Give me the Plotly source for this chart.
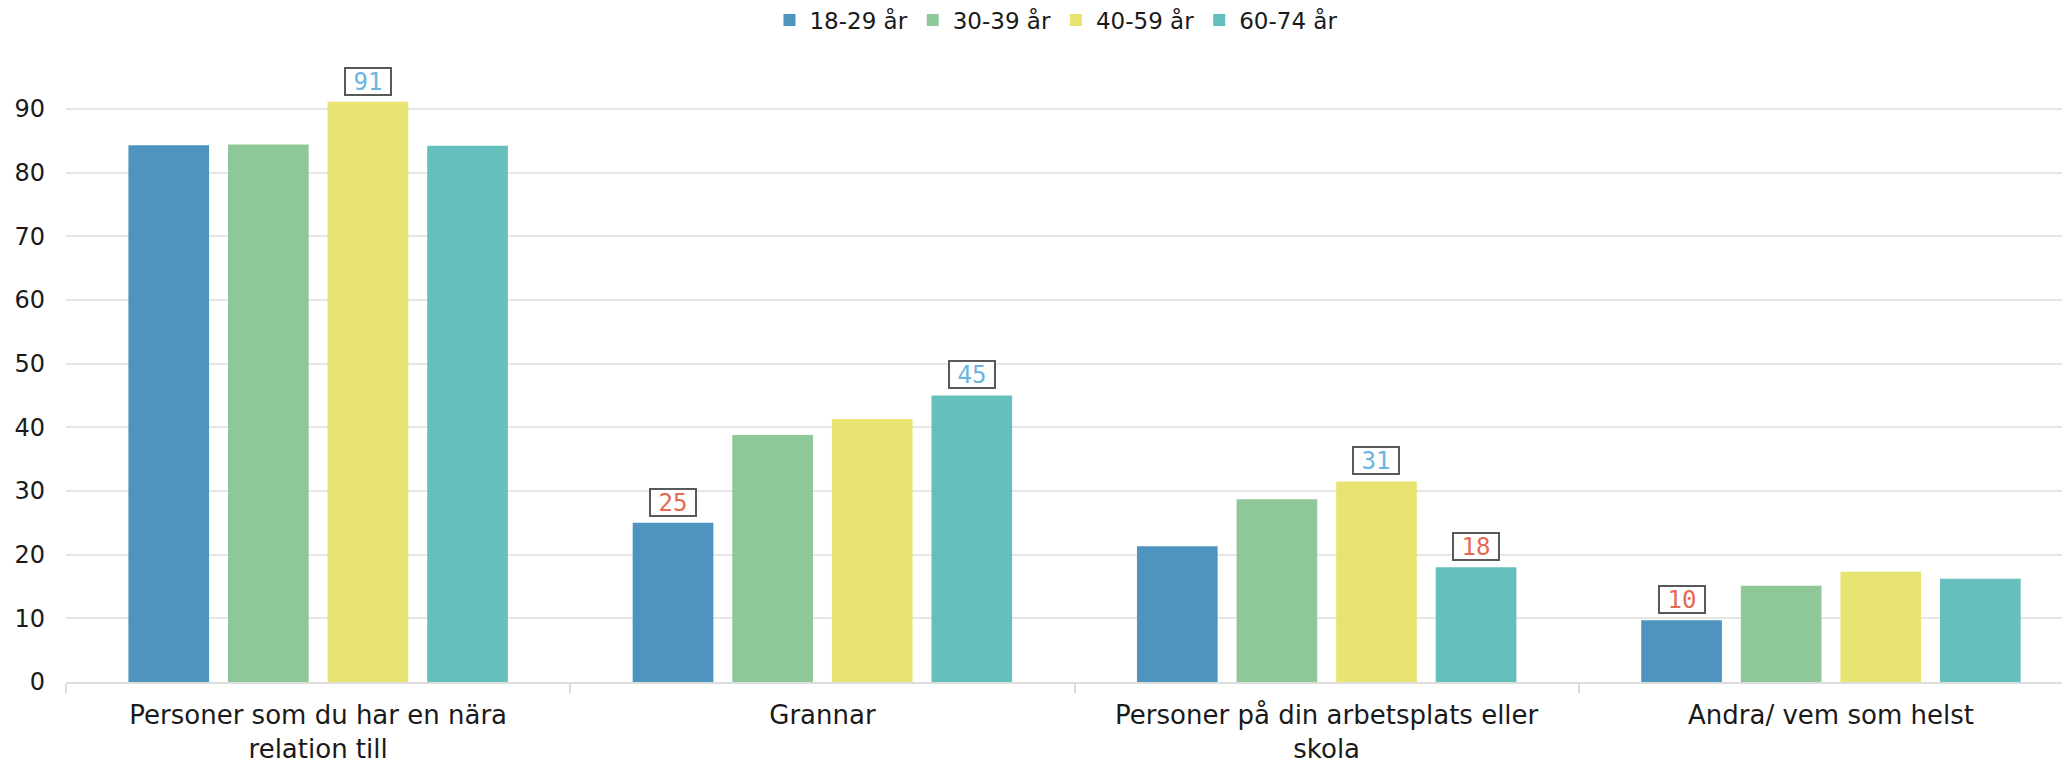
import plotly.graph_objects as go

categories = [
    "Personer som du har en nära<br>relation till",
    "Grannar",
    "Personer på din arbetsplats eller<br>skola",
    "Andra/ vem som helst",
]
series_names = ["18-29 år", "30-39 år", "40-59 år", "60-74 år"]
series_values = [
    [84.3, 25.0, 21.3, 9.7],   # 18-29 år
    [84.4, 38.8, 28.7, 15.1],  # 30-39 år
    [91.1, 41.3, 31.5, 17.3],  # 40-59 år
    [84.2, 45.0, 18.0, 16.2],  # 60-74 år
]
series_colors = ["#4E94BE", "#8FC898", "#E8E474", "#65C0BD"]

# highlighted labels: (category index, series index, label, kind)
label_cat = [0, 1, 1, 2, 2, 3]
label_series = [2, 0, 3, 2, 3, 0]
label_text = ["91", "25", "45", "31", "18", "10"]
label_kind = ["high", "low", "high", "high", "low", "low"]
kind_colors = {"high": "#6DB3DF", "low": "#E66A52"}

y_ticks = [0, 10, 20, 30, 40, 50, 60, 70, 80, 90]

BARGAP = 0.21
GROUPGAP = 0.19
SANS = "DejaVu Sans, Verdana, sans-serif"
MONO = "DejaVu Sans Mono, Liberation Mono, monospace"

fig = go.Figure()
for name, vals, col in zip(series_names, series_values, series_colors):
    fig.add_trace(go.Bar(
        name=name, x=categories, y=vals,
        marker=dict(color=col, line=dict(width=0)),
    ))

n = len(series_names)
slot = (1 - BARGAP) / n
for ci, si, txt, kind in zip(label_cat, label_series, label_text, label_kind):
    xpos = ci + (si - (n - 1) / 2) * slot
    fig.add_annotation(
        x=xpos, y=series_values[si][ci], xref="x", yref="y",
        text=txt, showarrow=False, yanchor="bottom", yshift=6,
        font=dict(family=MONO, size=24, color=kind_colors[kind]),
        bgcolor="white", bordercolor="#595959", borderwidth=2,
        borderpad=1, width=42, height=23,
    )

fig.update_layout(
    width=2070, height=763,
    margin=dict(l=58, r=8, t=69, b=89, autoexpand=False),
    paper_bgcolor="white", plot_bgcolor="white",
    barmode="group", bargap=BARGAP, bargroupgap=GROUPGAP,
    font=dict(family=SANS, color="#1a1a1a"),
    legend=dict(
        orientation="h", x=0.494, xanchor="center",
        yref="paper", y=1.094, yanchor="middle",
        font=dict(family=SANS, size=23, color="#1a1a1a"),
        itemwidth=30, tracegroupgap=0,
    ),
    showlegend=True,
)
fig.update_xaxes(
    type="category", categoryorder="array", categoryarray=categories,
    range=[-0.5, 3.474], tickson="boundaries", ticks="outside",
    ticklen=9, tickwidth=2, tickcolor="#d9d9d9",
    showline=True, linecolor="#dddddd", linewidth=2,
    showgrid=False, tickfont=dict(family=SANS, size=26, color="#1a1a1a"),
    ticklabelstandoff=9, automargin=False,
)
fig.update_yaxes(
    range=[0, 95], tickmode="array", tickvals=y_ticks,
    showgrid=True, gridcolor="#e6e6e6", gridwidth=2,
    zeroline=False, showline=False, ticks="",
    tickfont=dict(family=SANS, size=24, color="#1a1a1a"),
    ticklabelstandoff=20, automargin=False,
)

fig.write_html("out.html")
